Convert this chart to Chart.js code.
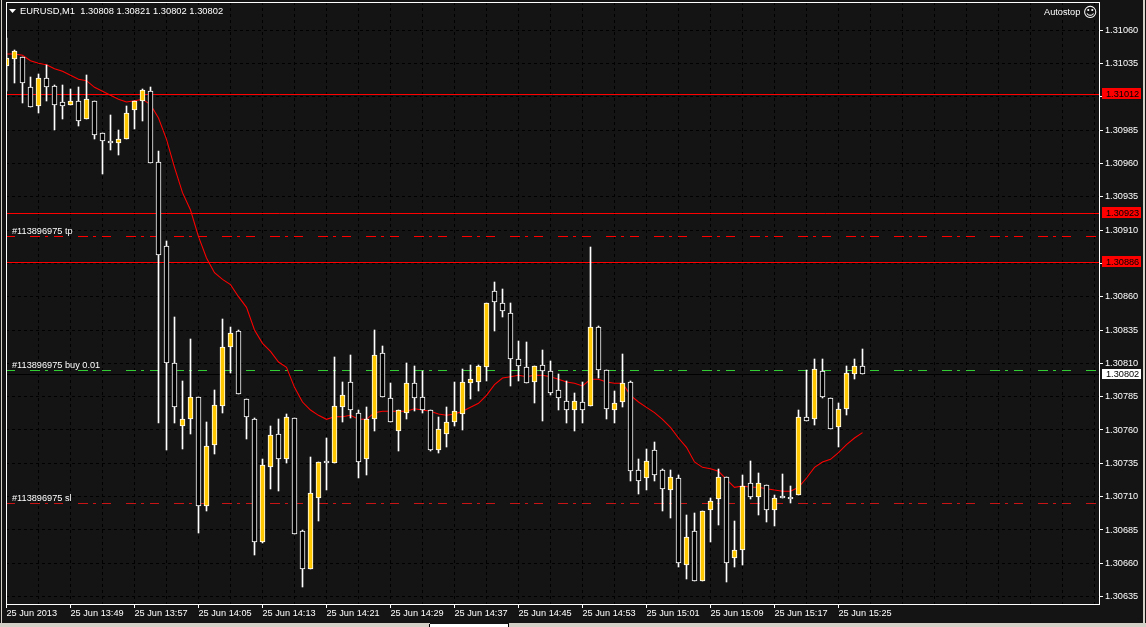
<!DOCTYPE html>
<html>
<head>
<meta charset="utf-8">
<title>EURUSD,M1</title>
<script src="https://cdn.jsdelivr.net/npm/chart.js@4"></script>
<style>
  html, body { margin: 0; padding: 0; background: #141414; overflow: hidden; }
  canvas { display: block; }
</style>
</head>
<body>
<canvas id="grafico" width="1146" height="627"></canvas>
<script>
// EURUSD M1 candles, 25 Jun 2013
const abertura = [
  1.31033,1.31038,1.31040,1.31017,1.31003,1.31024,1.31018,1.31006,1.31004,1.31007,1.30993,1.31007,
  1.30983,1.30977,1.30975,1.30978,1.31000,1.31007,1.31014,1.30961,1.30898,1.30810,1.30763,1.30768,
  1.30785,1.30703,1.30749,1.30778,1.30822,1.30834,1.30783,1.30768,1.30676,1.30732,1.30757,1.30738,
  1.30769,1.30684,1.30656,1.30709,1.30736,1.30735,1.30777,1.30796,1.30773,1.30738,1.30768,1.30818,
  1.30784,1.30759,1.30773,1.30795,1.30785,1.30775,1.30745,1.30757,1.30766,1.30772,1.30795,1.30796,
  1.30807,1.30864,1.30855,1.30848,1.30813,1.30807,1.30796,1.30809,1.30804,1.30790,1.30782,1.30775,
  1.30781,1.30778,1.30837,1.30805,1.30775,1.30781,1.30796,1.30730,1.30724,1.30745,1.30730,1.30715,
  1.30724,1.30659,1.30684,1.30647,1.30700,1.30708,1.30725,1.30664,1.30670,1.30720,1.30710,1.30719,
  1.30700,1.30710,1.30710,1.30711,1.30770,1.30768,1.30804,1.30784,1.30762,1.30776,1.30802,1.30808
];
const maximo = [
  1.31054,1.31045,1.31040,1.31025,1.31027,1.31034,1.31019,1.31019,1.31016,1.31017,1.31026,1.31007,
  1.30983,1.30996,1.30985,1.31003,1.31007,1.31016,1.31017,1.30969,1.30902,1.30845,1.30797,1.30828,
  1.30785,1.30766,1.30790,1.30843,1.30837,1.30835,1.30783,1.30769,1.30738,1.30763,1.30768,1.30772,
  1.30769,1.30685,1.30740,1.30736,1.30754,1.30815,1.30796,1.30816,1.30775,1.30777,1.30835,1.30823,
  1.30795,1.30775,1.30810,1.30808,1.30804,1.30775,1.30770,1.30777,1.30796,1.30806,1.30809,1.30809,
  1.30855,1.30871,1.30866,1.30855,1.30827,1.30826,1.30808,1.30820,1.30812,1.30802,1.30797,1.30788,
  1.30796,1.30897,1.30838,1.30805,1.30789,1.30817,1.30797,1.30738,1.30746,1.30751,1.30731,1.30730,
  1.30726,1.30696,1.30698,1.30699,1.30709,1.30731,1.30725,1.30692,1.30726,1.30737,1.30728,1.30719,
  1.30711,1.30727,1.30718,1.30775,1.30805,1.30813,1.30813,1.30784,1.30780,1.30808,1.30813,1.30821
];
const minimo = [
  1.31014,1.31020,1.31005,1.31002,1.30998,1.31007,1.30985,1.30993,1.31004,1.30988,1.30993,1.30978,
  1.30952,1.30970,1.30966,1.30978,1.30986,1.30992,1.30960,1.30765,1.30745,1.30765,1.30746,1.30757,
  1.30683,1.30699,1.30742,1.30773,1.30803,1.30787,1.30753,1.30666,1.30675,1.30716,1.30714,1.30735,
  1.30682,1.30642,1.30656,1.30692,1.30715,1.30735,1.30766,1.30769,1.30724,1.30726,1.30759,1.30785,
  1.30766,1.30744,1.30768,1.30774,1.30773,1.30744,1.30743,1.30747,1.30763,1.30760,1.30783,1.30789,
  1.30797,1.30834,1.30845,1.30793,1.30797,1.30795,1.30780,1.30767,1.30786,1.30775,1.30765,1.30759,
  1.30765,1.30778,1.30799,1.30768,1.30765,1.30777,1.30722,1.30712,1.30715,1.30722,1.30699,1.30694,
  1.30657,1.30648,1.30647,1.30647,1.30676,1.30689,1.30646,1.30657,1.30659,1.30708,1.30696,1.30691,
  1.30688,1.30709,1.30705,1.30711,1.30767,1.30764,1.30784,1.30761,1.30747,1.30771,1.30798,1.30802
];
const fechamento = [
  1.31039,1.31044,1.31020,1.31002,1.31024,1.31017,1.31004,1.31003,1.31007,1.30992,1.31008,1.30981,
  1.30977,1.30975,1.30978,1.30998,1.31007,1.31015,1.30960,1.30891,1.30810,1.30777,1.30768,1.30785,
  1.30703,1.30748,1.30779,1.30822,1.30833,1.30787,1.30770,1.30676,1.30734,1.30756,1.30738,1.30770,
  1.30682,1.30656,1.30713,1.30736,1.30735,1.30778,1.30786,1.30775,1.30736,1.30768,1.30816,1.30785,
  1.30766,1.30775,1.30795,1.30784,1.30775,1.30745,1.30761,1.30766,1.30774,1.30796,1.30798,1.30808,
  1.30855,1.30856,1.30849,1.30813,1.30808,1.30795,1.30808,1.30804,1.30788,1.30784,1.30775,1.30782,
  1.30775,1.30837,1.30805,1.30776,1.30780,1.30795,1.30729,1.30722,1.30737,1.30726,1.30716,1.30725,
  1.30660,1.30680,1.30647,1.30699,1.30707,1.30725,1.30660,1.30670,1.30718,1.30710,1.30720,1.30700,
  1.30709,1.30709,1.30708,1.30770,1.30767,1.30806,1.30785,1.30761,1.30776,1.30803,1.30808,1.30802
];
// moving average (red)
const media = [
  1.31042,1.31042,1.31041,1.31037,1.31035,1.31034,1.31031,1.31029,1.31026,1.31023,1.31022,1.31017,
  1.31014,1.31011,1.31008,1.31006,1.31007,1.31008,1.31004,1.30994,1.30978,1.30957,1.30938,1.30925,
  1.30905,1.30889,1.30878,1.30873,1.30869,1.30860,1.30852,1.30835,1.30825,1.30819,1.30811,1.30807,
  1.30792,1.30781,1.30775,1.30771,1.30768,1.30770,1.30770,1.30771,1.30768,1.30768,1.30773,1.30774,
  1.30774,1.30774,1.30774,1.30776,1.30775,1.30774,1.30772,1.30771,1.30772,1.30774,1.30777,1.30780,
  1.30786,1.30794,1.30799,1.30800,1.30801,1.30800,1.30801,1.30801,1.30800,1.30798,1.30796,1.30795,
  1.30793,1.30798,1.30798,1.30796,1.30795,1.30795,1.30786,1.30781,1.30777,1.30773,1.30768,1.30762,
  1.30754,1.30747,1.30736,1.30732,1.30731,1.30729,1.30723,1.30717,1.30718,1.30717,1.30717,1.30716,
  1.30715,1.30714,1.30714,1.30717,1.30724,1.30732,1.30736,1.30738,1.30743,1.30749,1.30754,1.30758
];
const alta = [0,1,4,8,10,14,15,16,17,22,23,25,26,27,28,32,33,35,38,39,41,42,45,46,49,50,54,55,56,57,58,59,60,66,71,73,76,77,80,83,85,87,88,89,91,92,94,96,99,101,104,105,106];

const precosEixo = [1.31060,1.31035,1.31010,1.30985,1.30960,1.30935,1.30910,1.30885,1.30860,1.30835,1.30810,1.30785,1.30760,1.30735,1.30710,1.30685,1.30660,1.30635];
const rotulosTempo = ['25 Jun 2013','25 Jun 13:49','25 Jun 13:57','25 Jun 14:05','25 Jun 14:13','25 Jun 14:21','25 Jun 14:29','25 Jun 14:37','25 Jun 14:45','25 Jun 14:53','25 Jun 15:01','25 Jun 15:09','25 Jun 15:17','25 Jun 15:25'];

const nivelCheio = [1.31012, 1.30923, 1.30886];
const nivelTp = 1.309055, nivelBuy = 1.30805, nivelSl = 1.30705, nivelBid = 1.30802;
const cabecalho = 'EURUSD,M1  1.30808 1.30821 1.30802 1.30802';
const ordens = [[nivelTp, '#113896975 tp'], [nivelBuy, '#113896975 buy 0.01'], [nivelSl, '#113896975 sl']];

const familia = '"Liberation Sans", sans-serif';
const fonte = '9.2px ' + familia;
const xMin = -0.0625, xMax = 136.5625;
const tracoPonto = [10, 5, 3, 6, 9, 15];

function linhaNivel(valor, cor, tipo) {
  return {
    type: 'line',
    data: [{ x: xMin, y: valor }, { x: xMax, y: valor }],
    borderColor: cor,
    borderWidth: 1,
    borderDash: tipo,
    borderDashOffset: tipo.length ? 24 : 0,
    pointRadius: 0,
    order: 3,
    nivel: true
  };
}

// snap to whole pixels, MT4 draws without antialiasing
const ajustePixels = {
  id: 'ajustePixels',
  beforeDatasetsDraw(chart) {
    chart.getSortedVisibleDatasetMetas().forEach(meta => {
      if (meta.type === 'bar') {
        meta.data.forEach(el => {
          el.y = Math.round(el.y);
          el.base = Math.round(el.base);
        });
      } else if (chart.data.datasets[meta.index].nivel) {
        meta.data.forEach(el => { el.y = Math.round(el.y) + 0.5; });
      }
    });
  }
};

const moldura = {
  id: 'moldura',
  afterDraw(chart) {
    const c = chart.ctx, a = chart.chartArea, esc = chart.scales.y;
    c.save();
    c.strokeStyle = '#fff';
    c.lineWidth = 1;
    c.strokeRect(a.left + 0.5, a.top + 0.5, a.right - a.left, a.bottom - a.top);

    c.font = fonte;
    c.textBaseline = 'alphabetic';
    c.fillStyle = '#fff';
    c.font = '9.35px ' + familia;
    c.fillText(cabecalho, 20, 14);
    c.font = fonte;
    c.beginPath();
    c.moveTo(9, 9); c.lineTo(16, 9); c.lineTo(12.5, 13); c.closePath();
    c.fill();
    c.fillText('Autostop', 1044, 15);
    c.font = '14px "DejaVu Sans"';
    c.fillText('\u263A', 1083, 17);
    c.font = fonte;

    ordens.forEach(o => c.fillText(o[1], 12, Math.round(esc.getPixelForValue(o[0])) - 2));

    // price boxes on the right
    nivelCheio.forEach(v => {
      const y = Math.round(esc.getPixelForValue(v));
      c.fillStyle = '#f00';
      c.fillRect(1102, y - 6, 39, 11);
      c.fillStyle = '#000';
      c.fillText(v.toFixed(5), 1106, y + 3);
    });
    const yb = Math.round(esc.getPixelForValue(nivelBid));
    c.fillStyle = '#fff';
    c.fillRect(1102, yb - 5, 39, 10);
    c.fillStyle = '#000';
    c.fillText(nivelBid.toFixed(5), 1106, yb + 3);

    // window edges
    c.fillStyle = '#d4d0c8';
    c.fillRect(1, 0, 1, 623);
    c.fillRect(1143, 0, 2, 623);
    c.fillRect(0, 623, 430, 4);
    c.fillRect(509, 623, 637, 4);
    c.fillStyle = '#fff';
    c.fillRect(430, 624, 78, 3);
    c.fillStyle = '#000';
    c.fillRect(429, 624, 1, 3);
    c.fillRect(508, 624, 1, 3);
    c.restore();
  }
};

const indices = abertura.map((_, i) => i);

new Chart(document.getElementById('grafico'), {
  type: 'bar',
  data: {
    datasets: [
      {
        // bodies
        data: indices.map(i => ({ x: i, y: [abertura[i], fechamento[i]] })),
        backgroundColor: indices.map(i => alta.includes(i) ? '#ffc800' : '#000'),
        borderColor: '#fff',
        borderWidth: 1,
        borderSkipped: false,
        barThickness: 5,
        minBarLength: 2,
        grouped: false,
        order: 0
      },
      {
        // wicks
        data: indices.map(i => ({ x: i, y: [minimo[i], maximo[i]] })),
        backgroundColor: '#fff',
        borderWidth: 0,
        barThickness: 1,
        grouped: false,
        order: 1
      },
      {
        type: 'line',
        data: indices.map(i => ({ x: i, y: media[i] })),
        borderColor: '#f00',
        borderWidth: 1.05,
        pointRadius: 0,
        order: 2
      },
      ...nivelCheio.map(v => linhaNivel(v, '#f00', [])),
      linhaNivel(nivelBid, '#000', []),
      linhaNivel(nivelTp, '#f00', tracoPonto),
      linhaNivel(nivelBuy, '#32cd32', tracoPonto),
      linhaNivel(nivelSl, '#c81414', tracoPonto)
    ]
  },
  options: {
    responsive: false,
    animation: false,
    devicePixelRatio: 1,
    layout: { padding: { left: 6, top: 2, right: 0, bottom: 0 } },
    plugins: { legend: { display: false }, tooltip: { enabled: false } },
    events: [],
    scales: {
      x: {
        type: 'linear',
        min: xMin,
        max: xMax,
        offset: false,
        afterBuildTicks(esc) {
          const t = [];
          for (let i = 0; i <= 136; i += 4) t.push({ value: i });
          esc.ticks = t;
        },
        afterFit(esc) {
          esc.height = 23;
          esc.paddingLeft = 0;
          esc.paddingRight = 0;
        },
        grid: {
          offset: false,
          color: '#000',
          lineWidth: 1,
          tickLength: 4,
          tickBorderDash: [],
          tickColor: ctx => (ctx.tick && ctx.tick.value % 8 === 0 && ctx.tick.value / 8 < rotulosTempo.length) ? '#fff' : 'rgba(0,0,0,0)'
        },
        border: { color: '#fff', dash: [3, 3] },
        ticks: {
          color: '#fff',
          font: { family: familia, size: 9.2 },
          autoSkip: false,
          maxRotation: 0,
          align: 'start',
          padding: 0,
          callback: v => (v % 8 === 0 ? (rotulosTempo[v / 8] || '') : '')
        }
      },
      y: {
        position: 'right',
        min: 1.306295,
        max: 1.31081,
        afterBuildTicks(esc) { esc.ticks = precosEixo.map(v => ({ value: v })); },
        afterFit(esc) {
          esc.width = 47;
          esc.paddingTop = 0;
          esc.paddingBottom = 0;
        },
        grid: {
          color: '#000',
          lineWidth: 1,
          tickLength: 4,
          tickBorderDash: [],
          tickColor: '#fff'
        },
        border: { color: '#fff', dash: [3, 3] },
        ticks: {
          color: '#fff',
          font: { family: familia, size: 9.2 },
          autoSkip: false,
          padding: 2,
          callback: v => v.toFixed(5)
        }
      }
    }
  },
  plugins: [ajustePixels, moldura]
});
</script>
</body>
</html>
